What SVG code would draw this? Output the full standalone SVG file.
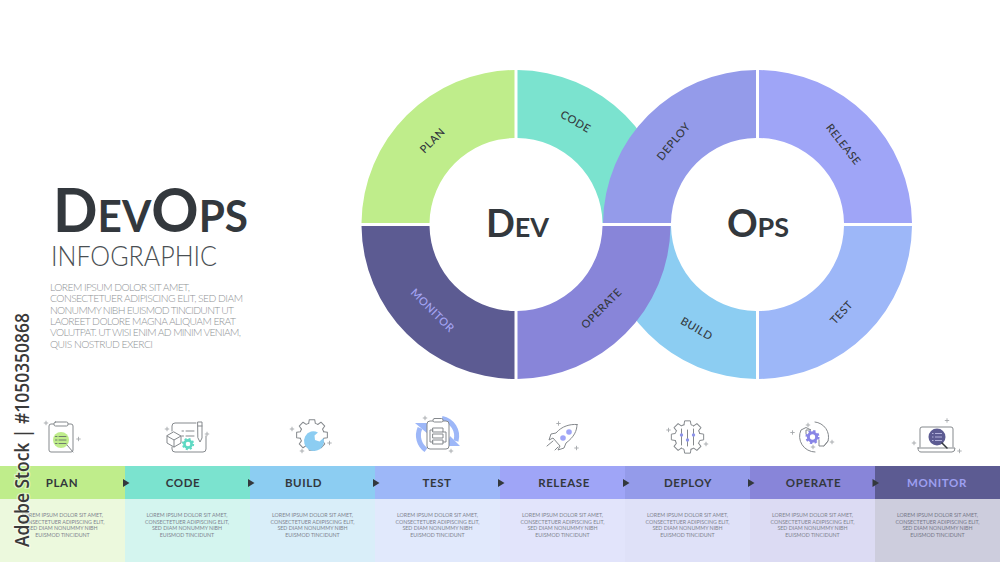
<svg xmlns="http://www.w3.org/2000/svg" xmlns:xlink="http://www.w3.org/1999/xlink" width="1000" height="562" viewBox="0 0 1000 562">
<style>
text{font-family:Lato,"Noto Sans","Liberation Sans",sans-serif;fill:#33383d}
.rl{font-size:11px;font-weight:500;letter-spacing:.5px;text-anchor:middle;dominant-baseline:central}
.hd{font-size:11.5px;font-weight:700;letter-spacing:.6px;text-anchor:middle}
.bd{font-size:5.3px;text-anchor:middle;fill:#80848f}
.lo{font-size:10.3px;font-weight:300;fill:#8f9396}
.ic{fill:none;stroke:#85898d;stroke-width:1;stroke-linecap:round;stroke-linejoin:round}
.sp{stroke:#a4a7aa;stroke-width:.9;fill:none}
.ar{fill:#33383d}
</style>
<defs>
<path id="q" d="M1.500-154.500A154.500 154.500 0 0 1 154.500-1.500H86.500A86.500 86.500 0 0 0 1.500-86.500Z"/>
<path id="sparkle" d="M-2.200 0H2.200M0-2.200V2.200"/>
<path id="tooth" d="M-4.270-14.900L-3.470-19.700H3.470L4.270-14.900A15.500 15.500 0 0 1 7.520-13.550"/>
<g id="gear"><use xlink:href="#tooth"/><use xlink:href="#tooth" transform="rotate(45)"/><use xlink:href="#tooth" transform="rotate(90)"/><use xlink:href="#tooth" transform="rotate(135)"/><use xlink:href="#tooth" transform="rotate(180)"/><use xlink:href="#tooth" transform="rotate(225)"/><use xlink:href="#tooth" transform="rotate(270)"/><use xlink:href="#tooth" transform="rotate(315)"/></g>
<g id="solidgear" fill="none"><circle r="3.600" stroke-width="2.600" stroke="currentColor"/><circle r="5.200" stroke-width="1.900" stroke="currentColor" stroke-dasharray="2.040 2.040"/></g>
</defs>
<rect width="1000" height="562" fill="#fff"/>

<g id="title">
<text x="53" y="232" font-size="61" font-weight="700" textLength="195" lengthAdjust="spacingAndGlyphs">D<tspan font-size="44">EV</tspan>O<tspan font-size="44">PS</tspan></text>
<text x="51" y="266" font-size="27.500" font-weight="300" textLength="166" lengthAdjust="spacingAndGlyphs" style="fill:#4a4f53">INFOGRAPHIC</text>
<text class="lo" x="50" y="291" textLength="140">LOREM IPSUM DOLOR SIT AMET,</text>
<text class="lo" x="50" y="302.300" textLength="193">CONSECTETUER ADIPISCING ELIT, SED DIAM</text>
<text class="lo" x="50" y="313.600" textLength="184">NONUMMY NIBH EUISMOD TINCIDUNT UT</text>
<text class="lo" x="50" y="324.900" textLength="186">LAOREET DOLORE MAGNA ALIQUAM ERAT</text>
<text class="lo" x="50" y="336.200" textLength="191">VOLUTPAT. UT WISI ENIM AD MINIM VENIAM,</text>
<text class="lo" x="50" y="347.500" textLength="103">QUIS NOSTRUD EXERCI</text>
</g>

<g id="ring-segments">
<g id="seg-code"><use xlink:href="#q" transform="translate(516 224.500)" fill="#7be3cf"/><text class="rl" transform="translate(576 121) rotate(30)">CODE</text></g>
<g id="seg-build"><use xlink:href="#q" transform="translate(757.500 224.500) rotate(180)" fill="#8ccdf2"/><text class="rl" transform="translate(697 328) rotate(30)">BUILD</text></g>
<g id="seg-plan"><use xlink:href="#q" transform="translate(516 224.500) rotate(-90)" fill="#bfed8b"/><text class="rl" transform="translate(432 140) rotate(-45)">PLAN</text></g>
<g id="seg-monitor"><use xlink:href="#q" transform="translate(516 224.500) rotate(180)" fill="#5c5b92"/><text class="rl" transform="translate(433 310) rotate(45)" style="fill:#a5a5f5">MONITOR</text></g>
<g id="seg-operate"><use xlink:href="#q" transform="translate(516 224.500) rotate(90)" fill="#8885d9"/><text class="rl" transform="translate(601 308) rotate(-45)">OPERATE</text></g>
<g id="seg-deploy"><use xlink:href="#q" transform="translate(757.500 224.500) rotate(-90)" fill="#949bea"/><text class="rl" transform="translate(673 141) rotate(-50)">DEPLOY</text></g>
<g id="seg-release"><use xlink:href="#q" transform="translate(757.500 224.500)" fill="#9fa5f7"/><text class="rl" transform="translate(844 144) rotate(52)">RELEASE</text></g>
<g id="seg-test"><use xlink:href="#q" transform="translate(757.500 224.500) rotate(90)" fill="#9db7f8"/><text class="rl" transform="translate(841 312) rotate(-47)">TEST</text></g>
</g>
<g id="center-dev"><text x="517.500" y="237" text-anchor="middle" font-size="38" font-weight="700">D<tspan font-size="27">EV</tspan></text></g>
<g id="center-ops"><text x="758" y="237" text-anchor="middle" font-size="38" font-weight="700">O<tspan font-size="27">PS</tspan></text></g>

<g id="step-plan">
<rect x="0" y="466" width="125" height="33" fill="#bfed8b"/><rect x="0" y="499" width="125" height="63" fill="#ecf9dd"/>
<text class="hd" x="62" y="487">PLAN</text>
<text class="bd"><tspan x="62.500" y="517">LOREM IPSUM DOLOR SIT AMET,</tspan><tspan x="62.500" y="523.600">CONSECTETUER ADIPISCING ELIT,</tspan><tspan x="62.500" y="530">SED DIAM NONUMMY NIBH</tspan><tspan x="62.500" y="536.500">EUISMOD TINCIDUNT</tspan></text>
<g class="ic"><path d="M54 424H51Q49 424 49 426V450Q49 452 51 452H71Q73 452 73 450V426Q73 424 71 424H68"/><rect x="54" y="422" width="14" height="4" rx="1.500"/></g>
<circle cx="61" cy="440" r="8" fill="#bfed8b"/>
<g class="ic" style="stroke:#5b6064;stroke-width:.8"><path d="M59 436.500H66M59 440H66M59 443.500H66M55.500 436.500H57M55.500 440H57M55.500 443.500H57"/></g>
<path class="ic" d="M67 445L73 452"/>
<g class="sp"><use xlink:href="#sparkle" x="46" y="423"/><use xlink:href="#sparkle" x="78.500" y="439"/></g>
</g>

<g id="step-code">
<rect x="125" y="466" width="125" height="33" fill="#7be3cf"/><rect x="125" y="499" width="125" height="63" fill="#d4f5ef"/>
<text class="hd" x="183" y="487">CODE</text>
<text class="bd"><tspan x="187" y="517">LOREM IPSUM DOLOR SIT AMET,</tspan><tspan x="187" y="523.600">CONSECTETUER ADIPISCING ELIT,</tspan><tspan x="187" y="530">SED DIAM NONUMMY NIBH</tspan><tspan x="187" y="536.500">EUISMOD TINCIDUNT</tspan></text>
<g class="ic"><path d="M172 431V426Q172 423 175 423H196M206 436V449Q206 452 203 452H175Q172 452 172 449V447"/><path d="M174 432L181 436V443L174 447L167 443V436ZM167 436L174 440L181 436M174 440V447"/><path d="M186 431H194M186 436H194M182 431H183.500M182 436H183.500M198 422H202V438L200 442L198 438ZM198 426H202"/></g>
<g transform="translate(188 444)" style="color:#5fd9c3"><use xlink:href="#solidgear"/></g>
<g class="sp"><use xlink:href="#sparkle" x="167" y="429"/><use xlink:href="#sparkle" x="207" y="434"/></g>
</g>

<g id="step-build">
<rect x="250" y="466" width="125" height="33" fill="#8ccdf2"/><rect x="250" y="499" width="125" height="63" fill="#d9eef9"/>
<text class="hd" x="303.500" y="487">BUILD</text>
<text class="bd"><tspan x="312.500" y="517">LOREM IPSUM DOLOR SIT AMET,</tspan><tspan x="312.500" y="523.600">CONSECTETUER ADIPISCING ELIT,</tspan><tspan x="312.500" y="530">SED DIAM NONUMMY NIBH</tspan><tspan x="312.500" y="536.500">EUISMOD TINCIDUNT</tspan></text>
<g class="ic" transform="translate(312 435) scale(.78)" style="stroke-width:1.300"><use xlink:href="#gear"/></g>
<path d="M311 431.500A10 10 0 1 0 323.500 438L319.500 441.500L315 440L314.500 435.500L318 432.500Q314.500 430.500 311 431.500Z" fill="#8ccdf2"/>
<g class="sp"><use xlink:href="#sparkle" x="292" y="429"/><use xlink:href="#sparkle" x="329.500" y="443"/><use xlink:href="#sparkle" x="302" y="451"/></g>
</g>

<g id="step-test">
<rect x="375" y="466" width="125" height="33" fill="#9db7f8"/><rect x="375" y="499" width="125" height="63" fill="#e1e9fc"/>
<text class="hd" x="437" y="487">TEST</text>
<text class="bd"><tspan x="437.500" y="517">LOREM IPSUM DOLOR SIT AMET,</tspan><tspan x="437.500" y="523.600">CONSECTETUER ADIPISCING ELIT,</tspan><tspan x="437.500" y="530">SED DIAM NONUMMY NIBH</tspan><tspan x="437.500" y="536.500">EUISMOD TINCIDUNT</tspan></text>
<path d="M426 450A18 18 0 0 1 420 428" fill="none" stroke="#9db7f8" stroke-width="5"/><path d="M415 423H428V434Z" fill="#9db7f8"/>
<path d="M442 418.500A18 18 0 0 1 456 441" fill="none" stroke="#9db7f8" stroke-width="5"/><path d="M447 446H460L450 436Z" fill="#9db7f8"/>
<rect x="427" y="421" width="22" height="28" rx="3" fill="#fff" stroke="#85898d"/>
<g class="ic"><rect x="433" y="418.500" width="10" height="3.500" rx="1.500" style="fill:#fff"/><rect x="433" y="428" width="10" height="4"/><rect x="433" y="434" width="10" height="4"/><rect x="433" y="440" width="10" height="4"/><path d="M433 430H430V442H433M443 432H446V442H443"/></g>
<g class="sp"><use xlink:href="#sparkle" x="425" y="418"/><use xlink:href="#sparkle" x="451" y="451"/></g>
</g>

<g id="step-release">
<rect x="500" y="466" width="125" height="33" fill="#9fa5f7"/><rect x="500" y="499" width="125" height="63" fill="#e2e4fb"/>
<text class="hd" x="564" y="487">RELEASE</text>
<text class="bd"><tspan x="562.500" y="517">LOREM IPSUM DOLOR SIT AMET,</tspan><tspan x="562.500" y="523.600">CONSECTETUER ADIPISCING ELIT,</tspan><tspan x="562.500" y="530">SED DIAM NONUMMY NIBH</tspan><tspan x="562.500" y="536.500">EUISMOD TINCIDUNT</tspan></text>
<g class="ic"><path d="M577 424.500C570 424 562 426 556 433L551 434L549 440L553 438L560 446L558 450L564 448L566 443C574 437 577 431 577 424.500Z"/><path d="M547 446L553 441M555 450L558 447"/></g>
<circle cx="569" cy="432" r="2.800" fill="#9fa5f7"/><circle cx="563" cy="438" r="2.800" fill="#9fa5f7"/>
<g class="sp"><use xlink:href="#sparkle" x="558.500" y="423.500"/><use xlink:href="#sparkle" x="576.500" y="448"/></g>
</g>

<g id="step-deploy">
<rect x="625" y="466" width="125" height="33" fill="#949bea"/><rect x="625" y="499" width="125" height="63" fill="#dfe1f8"/>
<text class="hd" x="688" y="487">DEPLOY</text>
<text class="bd"><tspan x="687.500" y="517">LOREM IPSUM DOLOR SIT AMET,</tspan><tspan x="687.500" y="523.600">CONSECTETUER ADIPISCING ELIT,</tspan><tspan x="687.500" y="530">SED DIAM NONUMMY NIBH</tspan><tspan x="687.500" y="536.500">EUISMOD TINCIDUNT</tspan></text>
<g class="ic" transform="translate(687.500 437) scale(.82)" style="stroke-width:1.200"><use xlink:href="#gear"/></g>
<path class="ic" d="M681.500 429V445M687.500 430V446M693.500 429V445"/>
<circle cx="681.500" cy="435" r="1.700" fill="#8e94ea"/><circle cx="687.500" cy="440" r="1.700" fill="#8e94ea"/><circle cx="693.500" cy="435" r="1.700" fill="#8e94ea"/>
<g class="sp"><use xlink:href="#sparkle" x="668.500" y="430"/><use xlink:href="#sparkle" x="706" y="444"/></g>
</g>

<g id="step-operate">
<rect x="750" y="466" width="125" height="33" fill="#8885d9"/><rect x="750" y="499" width="125" height="63" fill="#dcdbf3"/>
<text class="hd" x="813.500" y="487">OPERATE</text>
<text class="bd"><tspan x="812.500" y="517">LOREM IPSUM DOLOR SIT AMET,</tspan><tspan x="812.500" y="523.600">CONSECTETUER ADIPISCING ELIT,</tspan><tspan x="812.500" y="530">SED DIAM NONUMMY NIBH</tspan><tspan x="812.500" y="536.500">EUISMOD TINCIDUNT</tspan></text>
<g class="ic"><path d="M815 422A15 15 0 0 1 828 441L824 446H819L819 440M824 446L828 441"/><path d="M815 452A15.500 15.500 0 0 1 801 430L806 427.500L811 430H806V434"/></g>
<g transform="translate(812.500 437) scale(1.150)" style="color:#8885e6"><use xlink:href="#solidgear"/></g>
<g class="sp"><use xlink:href="#sparkle" x="792.500" y="432.500"/><use xlink:href="#sparkle" x="808" y="425"/><use xlink:href="#sparkle" x="832" y="442"/><use xlink:href="#sparkle" x="813" y="447"/></g>
</g>

<g id="step-monitor">
<rect x="875" y="466" width="125" height="33" fill="#5c5b92"/><rect x="875" y="499" width="125" height="63" fill="#cdcddd"/>
<text class="hd" x="937" y="487" style="fill:#9d9ff0">MONITOR</text>
<text class="bd" style="fill:#757888"><tspan x="937.500" y="517">LOREM IPSUM DOLOR SIT AMET,</tspan><tspan x="937.500" y="523.600">CONSECTETUER ADIPISCING ELIT,</tspan><tspan x="937.500" y="530">SED DIAM NONUMMY NIBH</tspan><tspan x="937.500" y="536.500">EUISMOD TINCIDUNT</tspan></text>
<g class="ic"><path d="M920 447V429Q920 427 922 427H951Q953 427 953 429V447"/><path d="M918 448H955Q955 452 952 452H921Q918 452 918 448Z"/></g>
<circle cx="937" cy="437" r="8.500" fill="#5c5b92"/>
<path d="M942 443L947 448" stroke="#33383d" stroke-width="1.500" stroke-linecap="round"/>
<path d="M935 433.500H942M935 437H942M935 440.500H942M932 433.500H933.500M932 437H933.500M932 440.500H933.500" stroke="#c8c8ee" stroke-width=".8" fill="none"/>
<g class="sp"><use xlink:href="#sparkle" x="947" y="420.500"/><use xlink:href="#sparkle" x="914" y="443"/><use xlink:href="#sparkle" x="959.500" y="451"/></g>
</g>

<g id="connectors">
<path class="ar" d="M123 479L129.500 483L123 487Z"/>
<path class="ar" d="M248 479L254.500 483L248 487Z"/>
<path class="ar" d="M373 479L379.500 483L373 487Z"/>
<path class="ar" d="M498 479L504.500 483L498 487Z"/>
<path class="ar" d="M623 479L629.500 483L623 487Z"/>
<path class="ar" d="M748 479L754.500 483L748 487Z"/>
<path class="ar" d="M872.500 479L879 483L872.500 487Z"/>
</g>

<g id="stock-credit">
<text transform="translate(29 547) rotate(-90)" font-size="20" font-weight="600" textLength="234" lengthAdjust="spacingAndGlyphs" style="font-family:'Open Sans','Liberation Sans',sans-serif;fill:#3a3a3a;stroke:#fff;stroke-opacity:.55;stroke-width:2.500;paint-order:stroke">Adobe Stock | #1050350868</text>
</g>
</svg>
